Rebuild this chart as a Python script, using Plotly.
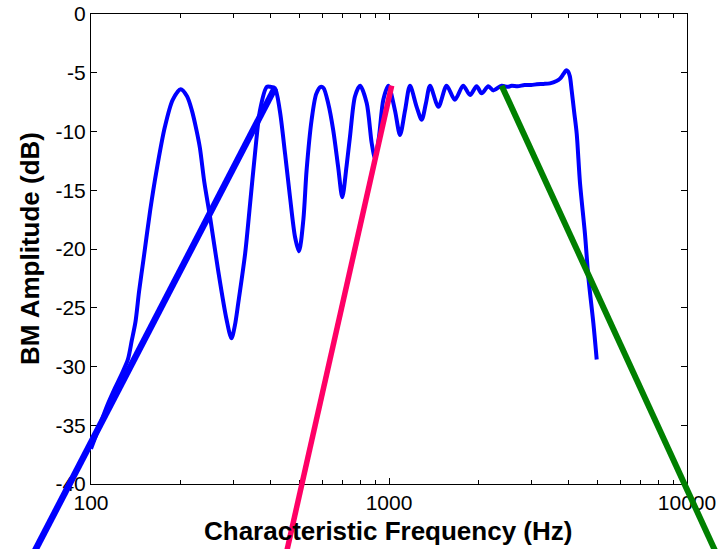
import plotly.graph_objects as go

# ---- data ----
bm_freq = [100, 106, 113, 120, 127, 133, 137, 141, 145, 150, 158, 166, 177, 188, 200,
           210, 218, 226, 232, 240, 251, 267, 285, 296, 304, 312, 329, 342, 355, 369,
           389, 400, 414, 430, 448, 465, 484, 499, 516, 529, 550, 570, 590, 603, 625,
           650, 675, 697, 720, 740, 769, 800, 842, 875, 898, 925, 957, 995, 1047, 1089,
           1132, 1176, 1238, 1288, 1330, 1373, 1465, 1561, 1663, 1774, 1871, 1968, 2046,
           2154, 2239, 2388, 2500, 2580, 2700, 2850, 3000, 3133, 3300, 3467, 3650, 3750,
           3850, 3926, 3990, 4045, 4102, 4180, 4265, 4375, 4545, 4667, 4850, 4977]
bm_amp = [-37.0, -35.3, -33.4, -31.9, -30.6, -29.4, -27.8, -26.2, -23.6, -20.9, -16.7, -13.3, -9.6, -7.3, -6.4,
          -7.0, -8.2, -9.9, -11.4, -14.3, -17.3, -21.8, -26.0, -27.6, -26.5, -24.6, -20.4, -16.1, -11.9, -8.2,
          -6.2, -6.2, -6.3, -8.2, -11.9, -15.5, -19.0, -20.2, -17.5, -13.3, -9.0, -6.8, -6.2, -6.3, -7.6,
          -9.9, -13.0, -15.6, -13.0, -10.4, -7.0, -6.1, -7.6, -11.0, -12.3, -10.5, -7.3, -6.1, -8.2, -10.3,
          -8.2, -6.1, -7.9, -9.0, -7.6, -6.1, -7.9, -6.1, -7.3, -6.1, -6.9, -6.15, -6.75,
          -6.15, -6.5, -6.1, -6.2, -6.1, -6.15, -6.05, -6.05, -5.98, -5.95, -5.9, -5.7, -5.5,
          -5.1, -4.8, -4.9, -5.3, -6.5, -8.3, -10.2, -14.4, -18.7, -22.4, -26.3, -29.4]

blue_line_freq = [50, 414]
blue_line_amp = [-51.2, -6.3]
pink_line_freq = [400, 1021]
pink_line_amp = [-51.9, -6.1]
green_line_freq = [2388, 15000]
green_line_amp = [-6.1, -50.2]

x_ticks = [100, 1000, 10000]
x_ticktext = ["100", "1000", "10000"]
x_minor = [200, 300, 400, 500, 600, 700, 800, 900,
           2000, 3000, 4000, 5000, 6000, 7000, 8000, 9000]
y_ticks = [0, -5, -10, -15, -20, -25, -30, -35, -40]
y_ticktext = ["0", "-5", "-10", "-15", "-20", "-25", "-30", "-35", "-40"]

# ---- layout geometry ----
W, H = 721, 549
XR = [2, 4]          # log10 range of main x axis
YR = [-40, 0]
xd = [91 / W, 687 / W]
yd = [1 - 484 / H, 1 - 14 / H]

# full-figure overlay axes with the same scale (so the straight lines run past the frame)
xspan = (XR[1] - XR[0]) / (xd[1] - xd[0])
x2r = [XR[0] - xd[0] * xspan, XR[0] + (1 - xd[0]) * xspan]
yspan = (YR[1] - YR[0]) / (yd[1] - yd[0])
y2r = [YR[0] - yd[0] * yspan, YR[0] + (1 - yd[0]) * yspan]

FONT = "Liberation Sans, Arial, sans-serif"

fig = go.Figure()
fig.add_trace(go.Scatter(x=bm_freq, y=bm_amp, mode="lines",
                         line=dict(color="#0000FF", width=4, shape="spline", smoothing=0.8),
                         xaxis="x", yaxis="y", hoverinfo="skip"))
fig.add_trace(go.Scatter(x=blue_line_freq, y=blue_line_amp, mode="lines",
                         line=dict(color="#0000FF", width=6.5),
                         xaxis="x2", yaxis="y2", hoverinfo="skip"))
fig.add_trace(go.Scatter(x=pink_line_freq, y=pink_line_amp, mode="lines",
                         line=dict(color="#FF0066", width=5.5),
                         xaxis="x2", yaxis="y2", hoverinfo="skip"))
fig.add_trace(go.Scatter(x=green_line_freq, y=green_line_amp, mode="lines",
                         line=dict(color="#008000", width=6),
                         xaxis="x2", yaxis="y2", hoverinfo="skip"))

axis_common = dict(showline=True, linecolor="#000000", linewidth=1, mirror="ticks",
                   ticks="inside", ticklen=6, tickcolor="#000000", showgrid=False,
                   zeroline=False, automargin=False,
                   tickfont=dict(family=FONT, size=21, color="#000000"))

fig.update_layout(
    width=W, height=H,
    margin=dict(l=0, r=0, t=0, b=0),
    paper_bgcolor="white", plot_bgcolor="rgba(0,0,0,0)",
    showlegend=False,
    xaxis=dict(type="log", range=XR, domain=xd, anchor="y",
               tickmode="array", tickvals=x_ticks, ticktext=x_ticktext,
               minor=dict(tickmode="array", tickvals=x_minor, ticks="inside",
                          ticklen=4, tickcolor="#000000", showgrid=False),
               ticklabelstandoff=0,
               **axis_common),
    yaxis=dict(range=YR, domain=yd, anchor="x",
               tickmode="array", tickvals=y_ticks, ticktext=y_ticktext,
               **axis_common),
    xaxis2=dict(type="log", range=x2r, domain=[0, 1], anchor="y2", visible=False,
                fixedrange=True),
    yaxis2=dict(range=y2r, domain=[0, 1], anchor="x2", visible=False, fixedrange=True),
    annotations=[
        dict(text="<b>Characteristic Frequency (Hz)</b>", xref="paper", yref="paper",
             x=388 / W, y=1 - 531 / H, showarrow=False, xanchor="center", yanchor="middle",
             font=dict(family=FONT, size=26, color="#000000")),
        dict(text="<b>BM Amplitude (dB)</b>", xref="paper", yref="paper",
             x=30 / W, y=1 - 249 / H, showarrow=False, xanchor="center", yanchor="middle",
             textangle=-90, font=dict(family=FONT, size=26, color="#000000")),
    ],
)

fig.write_html("out.html")
